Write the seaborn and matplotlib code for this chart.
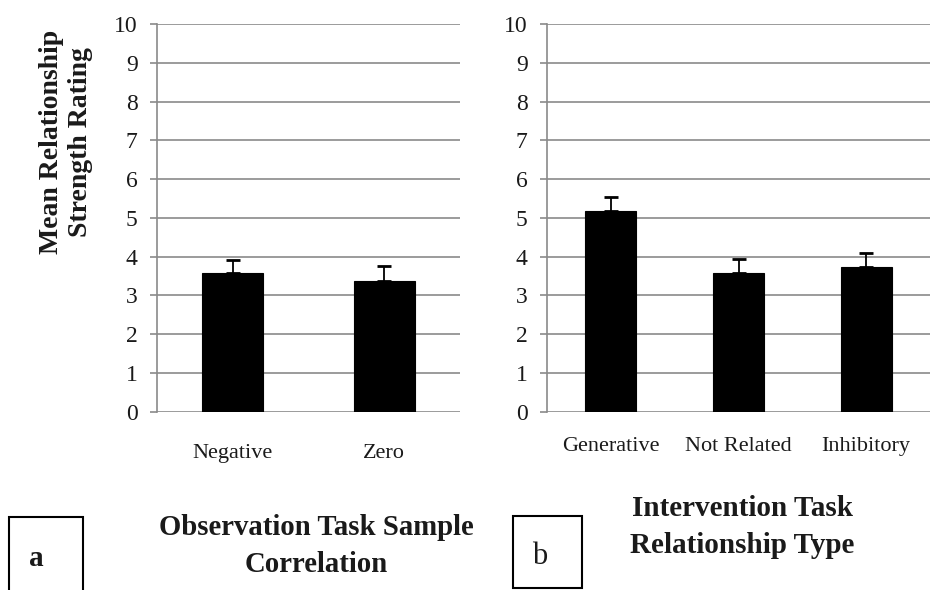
import matplotlib
matplotlib.use("Agg")
import matplotlib.pyplot as plt
import seaborn as sns
import pandas as pd
from matplotlib.patches import Rectangle

# ---- data ----
obs_categories = ["Negative", "Zero"]
obs_means = [3.57, 3.38]
obs_err = [0.33, 0.37]

int_categories = ["Generative", "Not Related", "Inhibitory"]
int_means = [5.18, 3.58, 3.72]
int_err = [0.37, 0.37, 0.37]

y_ticks = list(range(0, 11))

sns.set_style("white")
plt.rcParams["font.family"] = ["Liberation Serif", "DejaVu Serif"]

W, H = 934, 590
fig = plt.figure(figsize=(W / 100, H / 100), dpi=100)

grid_color = "#8a8a8a"
text_color = "#1a1a1a"


def panel(rect, cats, means, errs, xpad):
    ax = fig.add_axes(rect)
    df = pd.DataFrame({"cat": cats, "val": means})
    sns.barplot(data=df, x="cat", y="val", color="black", width=0.4,
                errorbar=None, ax=ax, edgecolor="black", linewidth=0.8,
                zorder=3, saturation=1)
    ax.errorbar(range(len(cats)), means, yerr=[[0] * len(errs), errs],
                fmt="none", ecolor="black", elinewidth=1.3, capsize=5,
                capthick=2, zorder=4)
    ax.set_ylim(0, 10)
    ax.set_xlim(-0.5, len(cats) - 0.5)
    ax.set_yticks(y_ticks)
    for y in y_ticks:
        ax.axhline(y, color=grid_color, lw=1.2, zorder=1)
    for s in ["top", "right", "bottom"]:
        ax.spines[s].set_visible(False)
    ax.spines["left"].set_color(grid_color)
    ax.spines["left"].set_linewidth(1.2)
    ax.tick_params(axis="y", length=5, width=1.2, color=grid_color,
                   labelsize=17, labelcolor=text_color, pad=9, left=True)
    ax.tick_params(axis="x", length=0, labelsize=16, labelcolor=text_color,
                   pad=xpad)
    ax.set_xlabel("")
    ax.set_ylabel("")
    return ax


ax1 = panel([157 / W, 1 - 411.7 / H, 303 / W, 387.7 / H],
            obs_categories, obs_means, obs_err, 23)
ax2 = panel([547 / W, 1 - 411.7 / H, 383 / W, 387.7 / H],
            int_categories, int_means, int_err, 18)

# y label
fig.text(66 / W, 1 - 142 / H, "Mean Relationship\nStrength Rating",
         rotation=90, ha="center", va="center", fontsize=20,
         fontweight="bold", color=text_color, linespacing=1.2,
         multialignment="center")

# bottom titles
fig.text(316 / W, 1 - 546 / H, "Observation Task Sample\nCorrelation",
         ha="center", va="center", fontsize=20.7, fontweight="bold",
         color=text_color, linespacing=1.45)
fig.text(742 / W, 1 - 527 / H, "Intervention Task\nRelationship Type",
         ha="center", va="center", fontsize=21, fontweight="bold",
         color=text_color, linespacing=1.45)

# panel letter boxes
fig.add_artist(Rectangle((9 / W, -0.01), 74 / W, (590 - 517) / H + 0.01,
                         transform=fig.transFigure, fill=False,
                         edgecolor="black", lw=1.5, clip_on=False))
fig.text(36 / W, 1 - 558 / H, "a", ha="center", va="center", fontsize=21,
         fontweight="bold", color=text_color)
fig.add_artist(Rectangle((513 / W, 2 / H), 69 / W, (588 - 516) / H,
                         transform=fig.transFigure, fill=False,
                         edgecolor="black", lw=1.5))
fig.text(540 / W, 1 - 556 / H, "b", ha="center", va="center", fontsize=22,
         color=text_color)

fig.savefig("out.png", dpi=100)
